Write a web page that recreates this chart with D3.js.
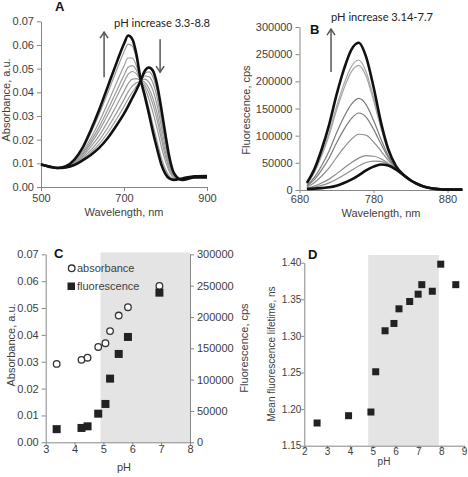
<!DOCTYPE html>
<html><head><meta charset="utf-8">
<script src="https://cdn.jsdelivr.net/npm/d3@7"></script>
<style>body{margin:0;background:#fff}svg{display:block}</style>
</head><body>
<script>
// ---------- Panel A : absorbance spectra ----------
const absWl = [500,520,540,560,580,600,620,640,660,680,700,710,720,730,740,750,760,770,780,790,800,810,820,840,870,900];
const absPH88 = [0.0095,0.0086,0.0080,0.0088,0.0115,0.0165,0.0240,0.0325,0.0420,0.0515,0.0605,0.0640,0.0625,0.0560,0.0455,0.0385,0.0310,0.0230,0.0160,0.0095,0.0055,0.0035,0.0030,0.0036,0.0045,0.0046];
const absPH33 = [0.0095,0.0086,0.0080,0.0083,0.0093,0.0112,0.0135,0.0165,0.0205,0.0255,0.0310,0.0342,0.0376,0.0410,0.0448,0.0490,0.0505,0.0490,0.0430,0.0330,0.0220,0.0120,0.0060,0.0030,0.0040,0.0040];
const absMid1 = [0.0095,0.0086,0.0080,0.0087,0.0112,0.0159,0.0227,0.0306,0.0394,0.0484,0.0570,0.0604,0.0595,0.0542,0.0454,0.0398,0.0333,0.0261,0.0192,0.0123,0.0075,0.0045,0.0034,0.0035,0.0044,0.0045];
const absMid2 = [0.0095,0.0086,0.0080,0.0086,0.0108,0.0148,0.0206,0.0274,0.0351,0.0432,0.0511,0.0545,0.0545,0.0512,0.0453,0.0419,0.0372,0.0313,0.0246,0.0170,0.0108,0.0062,0.0040,0.0034,0.0043,0.0044];
const absMid3 = [0.0095,0.0086,0.0080,0.0086,0.0105,0.0141,0.0193,0.0253,0.0323,0.0398,0.0472,0.0506,0.0513,0.0493,0.0452,0.0432,0.0398,0.0347,0.0282,0.0201,0.0129,0.0073,0.0044,0.0033,0.0043,0.0043];
const absMid4 = [0.0095,0.0086,0.0080,0.0085,0.0103,0.0136,0.0182,0.0237,0.0302,0.0372,0.0443,0.0476,0.0488,0.0478,0.0451,0.0443,0.0417,0.0373,0.0309,0.0224,0.0146,0.0082,0.0047,0.0033,0.0042,0.0043];
const absMid5 = [0.0095,0.0086,0.0080,0.0085,0.0100,0.0129,0.0169,0.0216,0.0274,0.0338,0.0404,0.0437,0.0456,0.0458,0.0450,0.0456,0.0443,0.0407,0.0344,0.0255,0.0167,0.0093,0.0050,0.0032,0.0042,0.0042];
const absMid6 = [0.0095,0.0086,0.0080,0.0084,0.0097,0.0123,0.0156,0.0197,0.0248,0.0307,0.0369,0.0402,0.0426,0.0440,0.0449,0.0469,0.0466,0.0438,0.0376,0.0283,0.0187,0.0103,0.0054,0.0031,0.0041,0.0041];
const absMid7 = [0.0095,0.0086,0.0080,0.0084,0.0095,0.0117,0.0146,0.0181,0.0227,0.0281,0.0340,0.0372,0.0401,0.0425,0.0449,0.0480,0.0486,0.0464,0.0403,0.0307,0.0204,0.0112,0.0057,0.0031,0.0040,0.0041];
const absTicksX = [500,700,900];
const absTicksY = [0,0.01,0.02,0.03,0.04,0.05,0.06,0.07];

// ---------- Panel B : fluorescence spectra ----------
const flWl = [690,700,710,720,730,740,750,760,770,780,790,800,810,820,830,840,850,860,870,880,890,900];
const flPH77 = [13000,38000,75000,120000,175000,222000,258000,271000,245000,190000,125000,75000,45000,28500,18000,10500,5500,2800,1500,1000,800,800];
const flPH314 = [2000,2500,3500,5000,8000,13000,19000,27000,36000,43000,47000,45000,38000,28000,18000,10500,5500,2800,1500,1000,800,800];
const flMid1 = [11500,33400,65700,105000,153300,194800,226900,239300,217800,170900,117500,72000,44100,28400,18000,10500,5500,2800,1500,1000,800,800];
const flMid2 = [11100,32000,62800,100500,146600,186500,217400,229500,209500,165000,114200,70700,43800,28400,18000,10500,5500,2800,1500,1000,800,800];
const flMid3 = [8400,23100,45000,71700,104900,134200,157600,168500,157200,128300,94000,63000,42100,28300,18000,10500,5500,2800,1500,1000,800,800];
const flMid4 = [7200,19200,37100,59000,86500,111200,131300,141700,134200,112100,85100,59600,41300,28200,18000,10500,5500,2800,1500,1000,800,800];
const flMid5 = [5400,13500,25700,40700,59800,77800,93100,102600,100800,88600,72100,54600,40200,28200,18000,10500,5500,2800,1500,1000,800,800];
const flMid6 = [3400,7100,12800,20000,29700,40200,50100,58700,63200,62100,57500,49000,38900,28100,18000,10500,5500,2800,1500,1000,800,800];
const flMid7 = [2800,5000,8500,13100,19700,27600,35700,44100,50600,53300,52700,47200,38500,28000,18000,10500,5500,2800,1500,1000,800,800];
const flTicksX = [680,780,880];
const flTicksY = [0,50000,100000,150000,200000,250000,300000];

// ---------- Panel C : absorbance & fluorescence vs pH ----------
const phC = [3.38,4.24,4.45,4.82,5.07,5.23,5.53,5.85,6.94];
const absVsPH = [0.0292,0.0307,0.0315,0.0355,0.0369,0.0414,0.0472,0.0503,0.0582];
const flVsPH = [21000,22900,25500,45700,61200,101600,141000,168100,238800];
const shadeC = [4.9,8];
const phTicksC = [3,4,5,6,7,8];

// ---------- Panel D : lifetime vs pH ----------
const phD = [2.56,3.94,4.92,5.13,5.54,5.93,6.15,6.62,6.99,7.15,7.61,7.98,8.64];
const lifetime = [1.181,1.191,1.196,1.251,1.307,1.317,1.337,1.347,1.357,1.370,1.361,1.398,1.370];
const shadeD = [4.8,7.9];
const phTicksD = [2,3,4,5,6,7,8,9];
const lifeTicks = [1.15,1.20,1.25,1.30,1.35,1.40];

// ================= drawing =================
const AX = "#868686", TXT = "#404040", FONT = "'Liberation Sans', Arial, sans-serif", NOTE = "Lato, 'Liberation Sans', sans-serif";
const svg = d3.select("body").append("svg").attr("width",468).attr("height",477);
svg.append("rect").attr("width",468).attr("height",477).attr("fill","#fff");

function styleAxis(size){
  return g=>{
    g.select(".domain").attr("stroke",AX).attr("stroke-width",1);
    g.selectAll(".tick line").attr("stroke",AX);
    g.selectAll(".tick text").attr("fill",TXT).style("font-family",FONT).style("font-size",(size||11)+"px");
  };
}
function label(g,text,x,y,opt={}){
  const t = g.append("text").attr("x",x).attr("y",y).text(text)
    .attr("fill",opt.fill||TXT).style("font-family",opt.font||FONT)
    .style("font-size",(opt.size||11)+"px").attr("text-anchor",opt.anchor||"middle");
  if(opt.bold) t.style("font-weight","bold");
  if(opt.rotate) t.attr("transform",`rotate(-90,${x},${y})`);
  if(opt.len) t.attr("textLength",opt.len).attr("lengthAdjust","spacingAndGlyphs");
  return t;
}
function arrow(g,x,y1,y2){
  const dir = y2<y1 ? 1 : -1;
  g.append("line").attr("x1",x).attr("x2",x).attr("y1",y1).attr("y2",y2).attr("stroke","#555").attr("stroke-width",1.5);
  g.append("path").attr("d",`M${x-4},${y2+dir*6}L${x},${y2}L${x+4},${y2+dir*6}`).attr("fill","none").attr("stroke","#555").attr("stroke-width",1.5);
}

// ---- A ----
const xA = d3.scaleLinear().domain([500,900]).range([41,207]);
const yA = d3.scaleLinear().domain([0,0.07]).range([187,21.3]);
const gA = svg.append("g");
gA.append("g").attr("transform","translate(0,187)")
  .call(d3.axisBottom(xA).tickValues(absTicksX).tickFormat(d3.format("d")).tickSize(4).tickSizeOuter(0)).call(styleAxis());
gA.append("g").attr("transform","translate(41,0)")
  .call(d3.axisLeft(yA).tickValues(absTicksY).tickFormat(d3.format(".2f")).tickSize(4).tickSizeOuter(0)).call(styleAxis());
const lineA = d3.line().x((d,i)=>xA(absWl[i])).y(d=>yA(d)).curve(d3.curveMonotoneX);
[absMid7,absMid6,absMid5,absMid4,absMid3,absMid2,absMid1].forEach(s=>{
  gA.append("path").attr("d",lineA(s)).attr("fill","none").attr("stroke","#9a9a9a").attr("stroke-width",1.2);
});
[absPH33,absPH88].forEach(s=>{
  gA.append("path").attr("d",lineA(s)).attr("fill","none").attr("stroke","#111").attr("stroke-width",2.6);
});
label(gA,"Wavelength, nm",124,215.5);
label(gA,"Absorbance, a.u.",10,100,{rotate:true});
label(gA,"A",55,11,{bold:true,size:13,anchor:"start",fill:"#111"});
label(gA,"pH increase 3.3-8.8",xA(676),27,{anchor:"start",font:NOTE,size:12,fill:"#222",len:96});
arrow(gA,xA(652),yA(0.0464),yA(0.0654));
arrow(gA,xA(787),yA(0.0624),yA(0.0485));

// ---- B ----
const xB = d3.scaleLinear().domain([680,900]).range([299.5,462.3]);
const yB = d3.scaleLinear().domain([0,300000]).range([190,27]);
const gB = svg.append("g");
gB.append("g").attr("transform","translate(0,190)")
  .call(d3.axisBottom(xB).tickValues(flTicksX).tickFormat(d3.format("d")).tickSize(3).tickPadding(2.5).tickSizeOuter(0)).call(styleAxis());
gB.append("g").attr("transform","translate(299.5,0)")
  .call(d3.axisLeft(yB).tickValues(flTicksY).tickFormat(d3.format("d")).tickSize(4).tickSizeOuter(0)).call(styleAxis());
const lineB = d3.line().x((d,i)=>xB(flWl[i])).y(d=>yB(d)).curve(d3.curveMonotoneX);
[[flMid7,"#8c8c8c"],[flMid6,"#8c8c8c"],[flMid5,"#8c8c8c"],[flMid4,"#7a7a7a"],[flMid3,"#7a7a7a"],[flMid2,"#a5a5a5"],[flMid1,"#a5a5a5"]].forEach(([s,c])=>{
  gB.append("path").attr("d",lineB(s)).attr("fill","none").attr("stroke",c).attr("stroke-width",1.2);
});
[flPH314,flPH77].forEach(s=>{
  gB.append("path").attr("d",lineB(s)).attr("fill","none").attr("stroke","#111").attr("stroke-width",2.6);
});
label(gB,"Wavelength, nm",381,217);
label(gB,"Fluorescence, cps",250,110,{rotate:true});
label(gB,"B",310,34,{bold:true,size:13,anchor:"start",fill:"#111"});
label(gB,"pH increase 3.14-7.7",331,20.5,{anchor:"start",font:NOTE,size:12,fill:"#222",len:102});
arrow(gB,xB(722.6),yB(217000),yB(296000));

// ---- C ----
const xC = d3.scaleLinear().domain([3,8]).range([45.7,190]);
const yCL = d3.scaleLinear().domain([0,0.07]).range([442.3,254.3]);
const yCR = d3.scaleLinear().domain([0,300000]).range([442.3,254.3]);
const gC = svg.append("g");
gC.append("rect").attr("x",xC(shadeC[0])).attr("width",xC(shadeC[1])-xC(shadeC[0]))
  .attr("y",yCL(0.0707)).attr("height",yCL(0)-yCL(0.0707)).attr("fill","#e4e4e4");
gC.append("g").attr("transform","translate(0,442.3)")
  .call(d3.axisBottom(xC).tickValues(phTicksC).tickFormat(d3.format("d")).tickSize(3).tickPadding(0).tickSizeOuter(0)).call(styleAxis());
gC.append("g").attr("transform","translate(45.7,0)")
  .call(d3.axisLeft(yCL).ticks(7).tickFormat(d3.format(".2f")).tickSize(4).tickSizeOuter(0)).call(styleAxis());
gC.append("g").attr("transform","translate(190,0)")
  .call(d3.axisRight(yCR).tickValues(flTicksY).tickFormat(d3.format("d")).tickSize(4).tickSizeOuter(0)).call(styleAxis());
gC.selectAll(".pt-abs").data(phC).join("circle").attr("class","pt-abs")
  .attr("cx",d=>xC(d)).attr("cy",(d,i)=>yCL(absVsPH[i])).attr("r",3.3)
  .attr("fill","#fff").attr("stroke","#333").attr("stroke-width",1.3);
gC.selectAll(".pt-fl").data(phC).join("rect").attr("class","pt-fl")
  .attr("x",d=>xC(d)-4).attr("y",(d,i)=>yCR(flVsPH[i])-4).attr("width",8).attr("height",8).attr("fill","#222");
gC.append("circle").attr("cx",71.7).attr("cy",268.3).attr("r",3.3).attr("fill","#fff").attr("stroke","#333").attr("stroke-width",1.3);
label(gC,"absorbance",77,272,{anchor:"start"});
gC.append("rect").attr("x",67.5).attr("y",282.5).attr("width",7.5).attr("height",7.5).attr("fill","#222");
label(gC,"fluorescence",77,290,{anchor:"start"});
label(gC,"pH",124,471);
label(gC,"Absorbance, a.u.",15,345,{rotate:true});
label(gC,"Fluorescence, cps",247.5,348,{rotate:true});
label(gC,"C",54,257.5,{bold:true,size:13,anchor:"start",fill:"#111"});

// ---- D ----
const xD = d3.scaleLinear().domain([2,9]).range([304.3,464]);
const yD = d3.scaleLinear().domain([1.15,1.40]).range([445.7,262.7]);
const gD = svg.append("g");
gD.append("rect").attr("x",xD(shadeD[0])).attr("width",xD(shadeD[1])-xD(shadeD[0]))
  .attr("y",yD(1.4105)).attr("height",yD(1.15)-yD(1.4105)).attr("fill","#e4e4e4");
gD.append("g").attr("transform","translate(0,445.7)")
  .call(d3.axisBottom(xD).tickValues(phTicksD).tickFormat(d3.format("d")).tickSize(3).tickPadding(-0.5).tickSizeOuter(0)).call(styleAxis(10));
gD.append("g").attr("transform","translate(304.3,0)")
  .call(d3.axisLeft(yD).tickValues(lifeTicks).tickFormat(d3.format(".2f")).tickSize(3).tickPadding(0).tickSizeOuter(0)).call(styleAxis(10));
gD.selectAll(".pt-life").data(phD).join("rect").attr("class","pt-life")
  .attr("x",d=>xD(d)-3.5).attr("y",(d,i)=>yD(lifetime[i])-3.5).attr("width",7).attr("height",7).attr("fill","#222");
label(gD,"pH",384,465,{size:10});
label(gD,"Mean fluorescence lifetime, ns",275,354,{rotate:true,size:10});
label(gD,"D",308,259,{bold:true,size:13,anchor:"start",fill:"#111"});
</script>
</body></html>
